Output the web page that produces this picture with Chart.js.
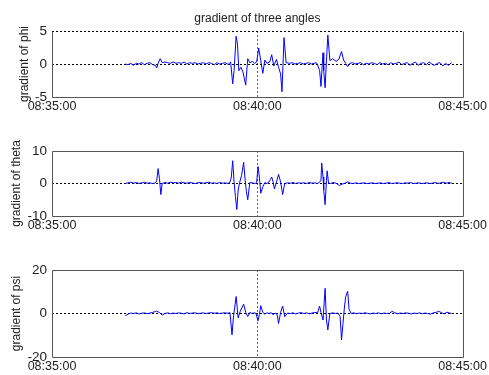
<!DOCTYPE html>
<html>
<head>
<meta charset="utf-8">
<script src="https://cdn.jsdelivr.net/npm/chart.js@4.4.1/dist/chart.umd.min.js"></script>
<style>
  body { margin: 0; background: #fff; width: 489px; height: 375px; overflow: hidden; position: relative; }
  canvas { position: absolute; left: 0; }
</style>
</head>
<body>
<canvas id="phiChart" width="489" height="117" style="top:0px"></canvas>
<canvas id="thetaChart" width="489" height="116" style="top:120px"></canvas>
<canvas id="psiChart" width="489" height="136" style="top:239px"></canvas>
<script>
// seconds after 08:35:00
const xTickValues = [0, 300, 600];
const xTickLabels = ['08:35:00', '08:40:00', '08:45:00'];

const phiTime = [107,111,115,119,123,127,131,135,139,143,
  147,151,153,155,158,161,165,169,173,177,
  181,185,189,193,197,201,205,209,213,217,
  221,225,229,233,237,241,245,249,253,256,
  258,261,264,266,269,271,273,276,279,283,
  286,289,293,296,299,302,305,308,311,314,
  318,321,324,328,331,334,336,339,342,347,
  351,355,359,363,367,371,375,379,383,386,
  388,391,393,394,396,397,399,401,403,406,
  410,415,419,423,426,429,432,435,439,443,
  447,451,455,459,463,467,471,475,479,483,
  487,491,495,499,503,507,511,515,519,523,
  527,531,535,539,543,547,551,555,559,563,
  567,571,575,579,584];
const phiValues = [0,-0.1,0.1,-0.2,0.1,0,0.2,-0.1,0.1,0.2,
  -0.1,-0.2,-0.6,0.1,0.8,0.2,0.3,0.2,0.1,0.3,
  0.1,0.2,0.1,0.3,0,0.2,0.1,0.2,0,0.1,
  0.2,0,0.2,0.1,-0.1,0.2,0,0.1,0.2,0,
  0,0.3,-3.0,-1.0,4.2,3.0,-1.0,-0.5,-1.2,-3.2,
  0.8,0.2,0.4,0.1,0.3,2.4,0.5,-1.4,0.6,0.1,
  0.3,1.4,-0.3,0.7,-0.5,-1.5,-4.2,4.0,0.2,0.1,
  0.2,0,0.1,0.2,0,0.1,0.2,0,0.1,0.2,
  -0.1,-1.0,-3.4,-1.5,1.7,-1.0,-3.6,0.5,4.4,0.5,
  0.8,0.4,0.7,1.9,0.6,0.1,-0.4,0.1,0.2,0,
  0.1,0.2,-0.1,0.1,0,0.2,0.1,-0.1,0.2,0,
  0.1,-0.1,0.2,0,0.1,0.3,-0.1,0.1,0.2,-0.2,
  0.1,0.3,-0.2,0.1,0.2,-0.1,0.3,0,-0.2,0.1,
  0.2,-0.3,0.1,-0.2,0.2];

const thetaTime = [107,111,115,119,123,127,131,135,139,143,
  147,151,153,155,157,159,161,165,169,173,
  177,181,185,189,193,197,201,205,209,213,
  217,221,225,229,233,237,241,245,249,253,
  257,260,262,264,266,268,270,272,274,277,
  280,282,284,286,289,293,297,299,301,303,
  305,308,311,314,317,319,321,323,325,328,
  331,334,337,340,344,348,352,356,360,364,
  368,372,376,380,384,388,391,393,394,396,
  397,399,401,402,404,407,411,415,420,424,
  428,432,436,440,444,448,452,456,460,464,
  468,472,476,480,484,488,492,496,500,504,
  508,512,516,520,524,528,532,536,540,544,
  548,552,556,560,564,568,572,576,580,584];
const thetaValues = [0,0.2,0.4,0.1,0.3,0,0.2,0.4,0.1,0.2,
  0,0.2,0.8,4.6,1.5,-3.4,0,0.3,0.1,0.4,
  0.2,0.3,0.1,0.4,0.2,0.1,0.3,0.2,0,0.2,
  0.3,0.1,0.2,0.4,0.1,0.2,0,0.3,0.1,0.2,
  0,0.4,2,7,0.5,-4,-8,-2,0.2,2.5,
  6.5,1.5,-2.5,-5,0.3,0.2,0,0.3,5.2,2,
  -3,-1,0.3,0,0.5,1.2,2,0.5,-1.7,0.5,
  2.8,0.5,-3.4,0,0.2,0.1,0.3,0,0.2,0.1,
  0.2,0,0.3,0.1,0.2,0,0.4,1,6.3,2,
  -2,-6.5,1,3.9,0.2,0,0.3,0.1,-0.6,-0.2,
  0.1,0.5,0.1,0,0.2,0,0.1,0.2,0,0.1,
  0.2,0,0.1,0.2,0,0.1,0.3,0,0.1,0.2,
  0.1,0,0.2,0.1,0.3,0,0.1,0.2,0,0.1,
  0.2,0,0.1,0.3,0,0.2,0.4,0.1,0.3,0.1];

const psiTime = [107,111,115,119,123,127,131,135,139,143,
  147,151,153,157,161,165,169,173,177,181,
  185,189,193,197,201,205,209,213,217,221,
  225,229,233,237,241,245,249,253,257,260,
  263,265,267,269,272,275,278,280,283,286,
  289,292,295,298,301,303,305,308,311,314,
  317,320,323,326,329,331,334,337,340,344,
  348,352,356,360,364,368,372,376,380,384,
  388,391,393,396,399,401,403,406,410,414,
  418,421,423,425,427,429,432,434,437,441,
  445,449,453,457,461,465,469,473,477,481,
  485,489,493,497,501,505,509,513,517,521,
  525,529,533,537,541,545,549,553,557,561,
  565,569,573,577,581,584];
const psiValues = [-1,-0.3,0.2,0,0.3,-0.2,0.1,0.3,-0.1,0.2,
  0.5,0.9,1.1,0.4,-0.7,0,0.3,-0.1,0.2,0,
  0.3,0.1,-0.2,0.4,0,0.2,0.3,0,0.1,0.3,
  0,0.2,0.4,0.1,0.3,0,0.2,0.3,0.1,0.4,
  -9.8,-2,3,7.8,-2,1,3,4.3,0.5,-1.4,
  0.5,0,0.3,0.1,-3.4,-0.5,3.6,0.5,-0.3,0.3,
  0,0.4,-0.5,0.2,-0.5,-4.6,0.5,3.4,-1.5,0.2,
  0,0.3,-0.2,0.2,0.4,0,0.3,-0.1,0.2,0.5,
  0.3,3.4,0.5,-3,11.6,-3,-7.5,0,0.3,0,
  0.2,-1.5,-12.2,-5,2,7.7,10.2,2,0,0.3,
  -0.1,0.2,0,0.3,0.1,-0.2,0.2,0,0.3,-0.1,
  0.2,0,0.1,1,0.3,-0.1,0.2,0,0.3,0.1,
  -0.2,0.2,0,0.3,-0.1,0.2,0,-0.3,0.3,0.5,
  1,0.4,-0.2,0.6,0.2,0];

const chartTitle = 'gradient of three angles';
const FONT = 'Arial, "Liberation Sans", sans-serif';

// draws the axes box (top edge left off when a dotted grid line sits there)
const boxPlugin = {
  id: 'box',
  afterDraw(chart, args, opts) {
    const a = chart.chartArea;
    const ctx = chart.ctx;
    ctx.save();
    ctx.strokeStyle = '#555';
    ctx.lineWidth = 1;
    ctx.beginPath();
    const l = Math.round(a.left) + 0.5, r = Math.round(a.right) + 0.5;
    const t = Math.round(a.top) + 0.5, b = Math.round(a.bottom) + 0.5;
    if (opts.top) {
      ctx.moveTo(l, t); ctx.lineTo(r, t);
    }
    ctx.moveTo(r, t); ctx.lineTo(r, b); ctx.lineTo(l, b); ctx.lineTo(l, t);
    ctx.stroke();
    ctx.restore();
  }
};

function makePanel(id, times, values, yMin, yMax, yLabel, labelPad, opts) {
  const points = times.map((t, i) => ({ x: t, y: values[i] }));
  return new Chart(document.getElementById(id), {
    type: 'line',
    data: {
      datasets: [{
        data: points,
        borderColor: 'rgb(0, 0, 255)',
        borderWidth: 1,
        pointRadius: 0,
        tension: 0,
        fill: false
      }]
    },
    options: {
      responsive: false,
      animation: false,
      layout: { padding: { top: opts.padTop, right: 26, left: 0, bottom: 0 } },
      plugins: {
        legend: { display: false },
        tooltip: { enabled: false },
        title: opts.title ? {
          display: true,
          fullSize: false,
          text: opts.title,
          color: '#222',
          font: { family: FONT, size: 12, weight: 'normal' },
          padding: { top: 11, bottom: 5.6 }
        } : { display: false },
        box: { top: !opts.dashedTop }
      },
      scales: {
        x: {
          type: 'linear',
          min: 0,
          max: 600,
          afterBuildTicks: s => { s.ticks = xTickValues.map(v => ({ value: v })); },
          afterFit: s => { s.height = opts.xHeight; },
          ticks: {
            autoSkip: false,
            maxRotation: 0,
            padding: 2,
            color: '#222',
            font: { family: FONT, size: 12.5 },
            callback: v => xTickLabels[xTickValues.indexOf(v)]
          },
          grid: {
            drawTicks: false,
            color: c => (c.tick && c.tick.value === 300) ? '#666' : 'rgba(0,0,0,0)'
          },
          border: { display: false, dash: [2, 2] }
        },
        y: {
          min: yMin,
          max: yMax,
          afterBuildTicks: s => { s.ticks = [yMin, 0, yMax].map(v => ({ value: v })); },
          afterFit: s => { s.width = 52; },
          ticks: {
            padding: 5,
            color: '#222',
            font: { family: FONT, size: 13.5 }
          },
          grid: {
            drawTicks: false,
            color: c => {
              if (!c.tick) return 'rgba(0,0,0,0)';
              if (c.tick.value === 0) return '#000';
              if (opts.dashedTop && c.tick.value === yMax) return '#000';
              return 'rgba(0,0,0,0)';
            }
          },
          border: { display: false, dash: [2, 2] },
          title: {
            display: true,
            text: yLabel,
            color: '#222',
            font: { family: FONT, size: 12 },
            padding: { top: labelPad, bottom: 0 }
          }
        }
      }
    },
    plugins: [boxPlugin]
  });
}

makePanel('phiChart', phiTime, phiValues, -5, 5, 'gradient of phi', 17.5,
  { padTop: 0, title: chartTitle, dashedTop: true, xHeight: 20 });
makePanel('thetaChart', thetaTime, thetaValues, -10, 10, 'gradient of theta', 9.8,
  { padTop: 31, dashedTop: false, xHeight: 20 });
makePanel('psiChart', psiTime, psiValues, -20, 20, 'gradient of psi', 9.8,
  { padTop: 31, dashedTop: false, xHeight: 18 });
</script>
</body>
</html>
